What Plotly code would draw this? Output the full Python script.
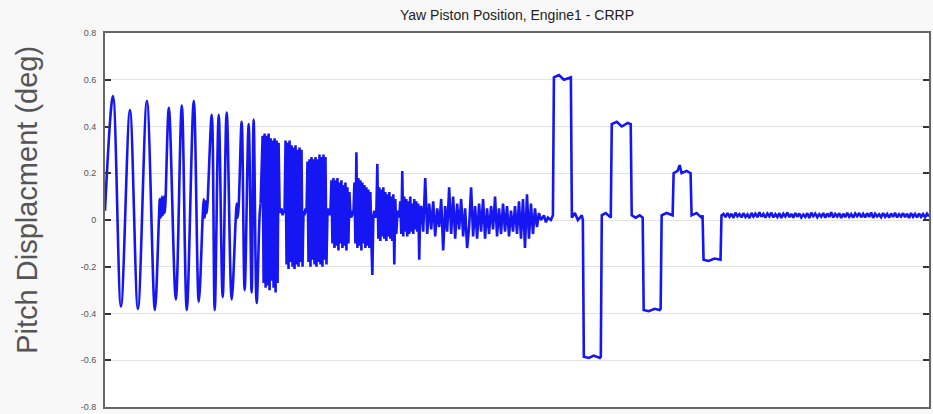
import numpy as np
import plotly.graph_objects as go

# ---- signal data (time in samples, displacement in deg) ----
# slow sweep: turning points of the large-amplitude oscillation
SWEEP_T = [0, 8, 16, 25, 33, 42, 50, 54, 55, 56, 57, 58, 59, 60,
           64, 71, 77, 82, 89, 94, 98, 99, 100, 101, 102,
           107, 110, 114, 118, 122, 127, 131, 132, 133, 134,
           137, 140, 144, 147, 149, 152, 155, 156]
SWEEP_V = [0.04, 0.53, -0.37, 0.47, -0.38, 0.51, -0.385, 0.0, 0.09, 0.01, 0.1, 0.02, 0.1, 0.03,
           0.48, -0.34, 0.49, -0.385, 0.51, -0.35, 0.02, 0.09, 0.01, 0.08, 0.03,
           0.45, -0.385, 0.45, -0.33, 0.46, -0.34, 0.0, 0.07, 0.01, 0.06,
           0.42, -0.30, 0.41, -0.31, 0.43, -0.355, 0.02, 0.07]

# high-frequency bursts, one sample per unit
BURST_T0 = 158
BURST_V = [
    0.36, -0.27, 0.37, -0.29, 0.36, -0.28, 0.37, -0.30, 0.35, -0.26, 0.34, -0.29, 0.35, -0.31, 0.34, -0.27, 0.33,
    0.05, 0.03, 0.05, 0.02, 0.04, 0.03,
    0.34, -0.19, 0.33, -0.21, 0.34, -0.18, 0.32, -0.20, 0.31, -0.21, 0.32, -0.19, 0.30, -0.20, 0.31, -0.18, 0.30, -0.20,
    0.04, 0.02, 0.05, 0.03,
    0.25, -0.18, 0.26, -0.20, 0.27, -0.17, 0.26, -0.19, 0.27, -0.20, 0.26, -0.18, 0.28, -0.19, 0.27, -0.20, 0.28, -0.17, 0.27, -0.19,
    0.03, 0.05, 0.02, 0.04,
    0.17, -0.10, 0.18, -0.12, 0.17, -0.11, 0.18, -0.13, 0.16, -0.10, 0.17, -0.12, 0.15, -0.11, 0.16, -0.13, 0.14, -0.10, 0.12,
    0.03, 0.01, 0.04, 0.02,
    0.16, -0.10, 0.29, -0.12, 0.18, -0.11, 0.17, -0.13, 0.16, -0.10, 0.15, -0.12, 0.14, -0.11, 0.13, -0.12, 0.12, -0.09,
    -0.235,
    0.02, 0.04, 0.01, 0.03,
    0.24, -0.08, 0.14, -0.09, 0.13, -0.07, 0.14, -0.08, 0.12, -0.09, 0.11, -0.07, 0.12, -0.08, 0.10, -0.09, 0.11, -0.19, 0.09, -0.06,
    0.02, 0.04, 0.01,
    0.08, -0.06, 0.21, -0.07, 0.10, -0.05, 0.09, -0.07, 0.08, -0.06, 0.10, -0.05, 0.07, -0.06, 0.09, -0.04, 0.08, -0.05, 0.07, -0.17,
    0.05,
]

# decaying noise, one sample every 2 units
NOISE_T0 = 317
NOISE_DT = 2
NOISE_V = [
    0.06, -0.05, 0.18, -0.06, 0.07, -0.04, 0.08, -0.07, 0.05, -0.03,
    0.09, -0.13, 0.06, -0.05, 0.14, -0.06, 0.10, -0.08, 0.07, -0.04,
    0.09, -0.07, 0.05, -0.12, -0.03, 0.14, -0.07, 0.06, -0.08, 0.07,
    -0.05, 0.09, -0.08, 0.05, -0.06, 0.06, -0.04, 0.10, -0.07, 0.05,
    -0.06, 0.07, -0.05, 0.06, -0.07, 0.04, -0.05, 0.06, -0.06, 0.08,
    -0.08, 0.09, -0.12, 0.11, -0.08, 0.07, -0.06, 0.05, -0.03, 0.03,
]

# step commands: corner points of the plateaus
STEP_T = [437, 440, 442, 444, 447, 449,
          450, 455, 460, 467,
          468, 471, 474, 478, 479,
          480, 485, 490, 496, 497,
          498, 502, 507,
          508, 513, 518, 524, 527,
          528, 532, 536, 539,
          540, 545, 551, 556, 557,
          558, 563, 568, 569,
          570, 574, 576, 578, 583, 587,
          588, 593, 598, 599,
          600, 605, 611, 616, 617,
          618]
STEP_V = [0.0, 0.02, -0.01, 0.01, 0.0, 0.02,
          0.61, 0.62, 0.60, 0.61,
          0.01, 0.03, 0.0, 0.02, 0.0,
          -0.585, -0.59, -0.58, -0.59, -0.585,
          0.02, 0.03, 0.01,
          0.41, 0.42, 0.40, 0.415, 0.41,
          0.02, 0.01, 0.02, 0.01,
          -0.385, -0.39, -0.38, -0.385, -0.38,
          0.02, 0.03, 0.02, 0.02,
          0.20, 0.21, 0.235, 0.20, 0.21, 0.20,
          0.02, 0.03, 0.01, 0.02,
          -0.17, -0.175, -0.165, -0.17, -0.17,
          0.02]

# settled tail, one sample every 2 units
TAIL_T0 = 620
TAIL_DT = 2
TAIL_V = [
    0.026, 0.012, 0.030, 0.014, 0.027, 0.009, 0.031, 0.016, 0.025, 0.011,
    0.029, 0.013, 0.024, 0.008, 0.030, 0.015, 0.027, 0.012, 0.033, 0.014,
    0.026, 0.010, 0.028, 0.016, 0.031, 0.011, 0.025, 0.013, 0.029, 0.009,
    0.027, 0.015, 0.032, 0.012, 0.026, 0.010, 0.030, 0.014, 0.028, 0.011,
    0.024, 0.013, 0.029, 0.008, 0.031, 0.016, 0.027, 0.012, 0.025, 0.014,
    0.030, 0.010, 0.028, 0.013, 0.033, 0.011, 0.026, 0.015, 0.029, 0.009,
    0.027, 0.012, 0.031, 0.014, 0.025, 0.010, 0.028, 0.016, 0.030, 0.012,
    0.026, 0.011, 0.029, 0.013, 0.032, 0.009, 0.027, 0.015, 0.024, 0.012,
    0.030, 0.014, 0.026, 0.010, 0.028, 0.013, 0.031, 0.011, 0.025, 0.015,
    0.029, 0.012, 0.027, 0.009, 0.030, 0.014, 0.026, 0.011, 0.028, 0.013,
    0.025, 0.012, 0.027, 0.015,
]

Y_TICKS = [-0.8, -0.6, -0.4, -0.2, 0, 0.2, 0.4, 0.6, 0.8]
Y_TICK_TEXT = ["-0.8", "-0.6", "-0.4", "-0.2", "0", "0.2", "0.4", "0.6", "0.8"]
T_MAX = 826

LINE = dict(color="#1616f2", width=2.6)

# ---- assemble the time series after the sweep ----
t_rest = np.concatenate([
    [SWEEP_T[-1]],
    BURST_T0 + np.arange(len(BURST_V)),
    NOISE_T0 + NOISE_DT * np.arange(len(NOISE_V)),
    np.array(STEP_T, float),
    TAIL_T0 + TAIL_DT * np.arange(len(TAIL_V)),
])
v_rest = np.concatenate([[SWEEP_V[-1]], BURST_V, NOISE_V, STEP_V, TAIL_V])

fig = go.Figure()
# smooth sinusoidal sweep
fig.add_trace(go.Scatter(
    x=SWEEP_T, y=SWEEP_V, mode="lines",
    line=dict(shape="spline", smoothing=1.0, **LINE),
    hoverinfo="skip", showlegend=False,
))
# bursts, noise, steps and settled tail
fig.add_trace(go.Scatter(
    x=t_rest, y=v_rest, mode="lines",
    line=LINE,
    hoverinfo="skip", showlegend=False,
))

fig.update_layout(
    width=933, height=414,
    margin=dict(l=105, r=2, t=33, b=6),
    paper_bgcolor="#f8f8f8",
    plot_bgcolor="#ffffff",
    font=dict(family="Liberation Sans, Arial, sans-serif", color="#444"),
    title=dict(
        text="Yaw Piston Position, Engine1 - CRRP",
        x=0.5, xref="paper", xanchor="center",
        y=1 - 15 / 414, yref="container", yanchor="middle",
        font=dict(size=14, color="#222"),
    ),
    xaxis=dict(
        range=[0, T_MAX], showticklabels=False, ticks="",
        showgrid=False, zeroline=False,
        showline=True, linecolor="#666", linewidth=2, mirror=True,
    ),
    yaxis=dict(
        range=[-0.8, 0.8], tickvals=Y_TICKS, ticktext=Y_TICK_TEXT,
        ticks="inside", ticklen=6, tickwidth=1.5, tickcolor="#333",
        tickfont=dict(size=9, color="#555"), ticklabelstandoff=5,
        showgrid=True, gridcolor="#e2e2e2", gridwidth=1,
        zeroline=False,
        showline=True, linecolor="#666", linewidth=2, mirror="ticks",
    ),
    annotations=[dict(
        text="Pitch Displacment (deg)",
        xref="paper", yref="paper",
        x=(26 - 105) / 826, y=(408 - 200) / 375,
        xanchor="center", yanchor="middle",
        textangle=-90, showarrow=False,
        font=dict(size=29, color="#555"),
    )],
)

fig.write_html("out.html")
